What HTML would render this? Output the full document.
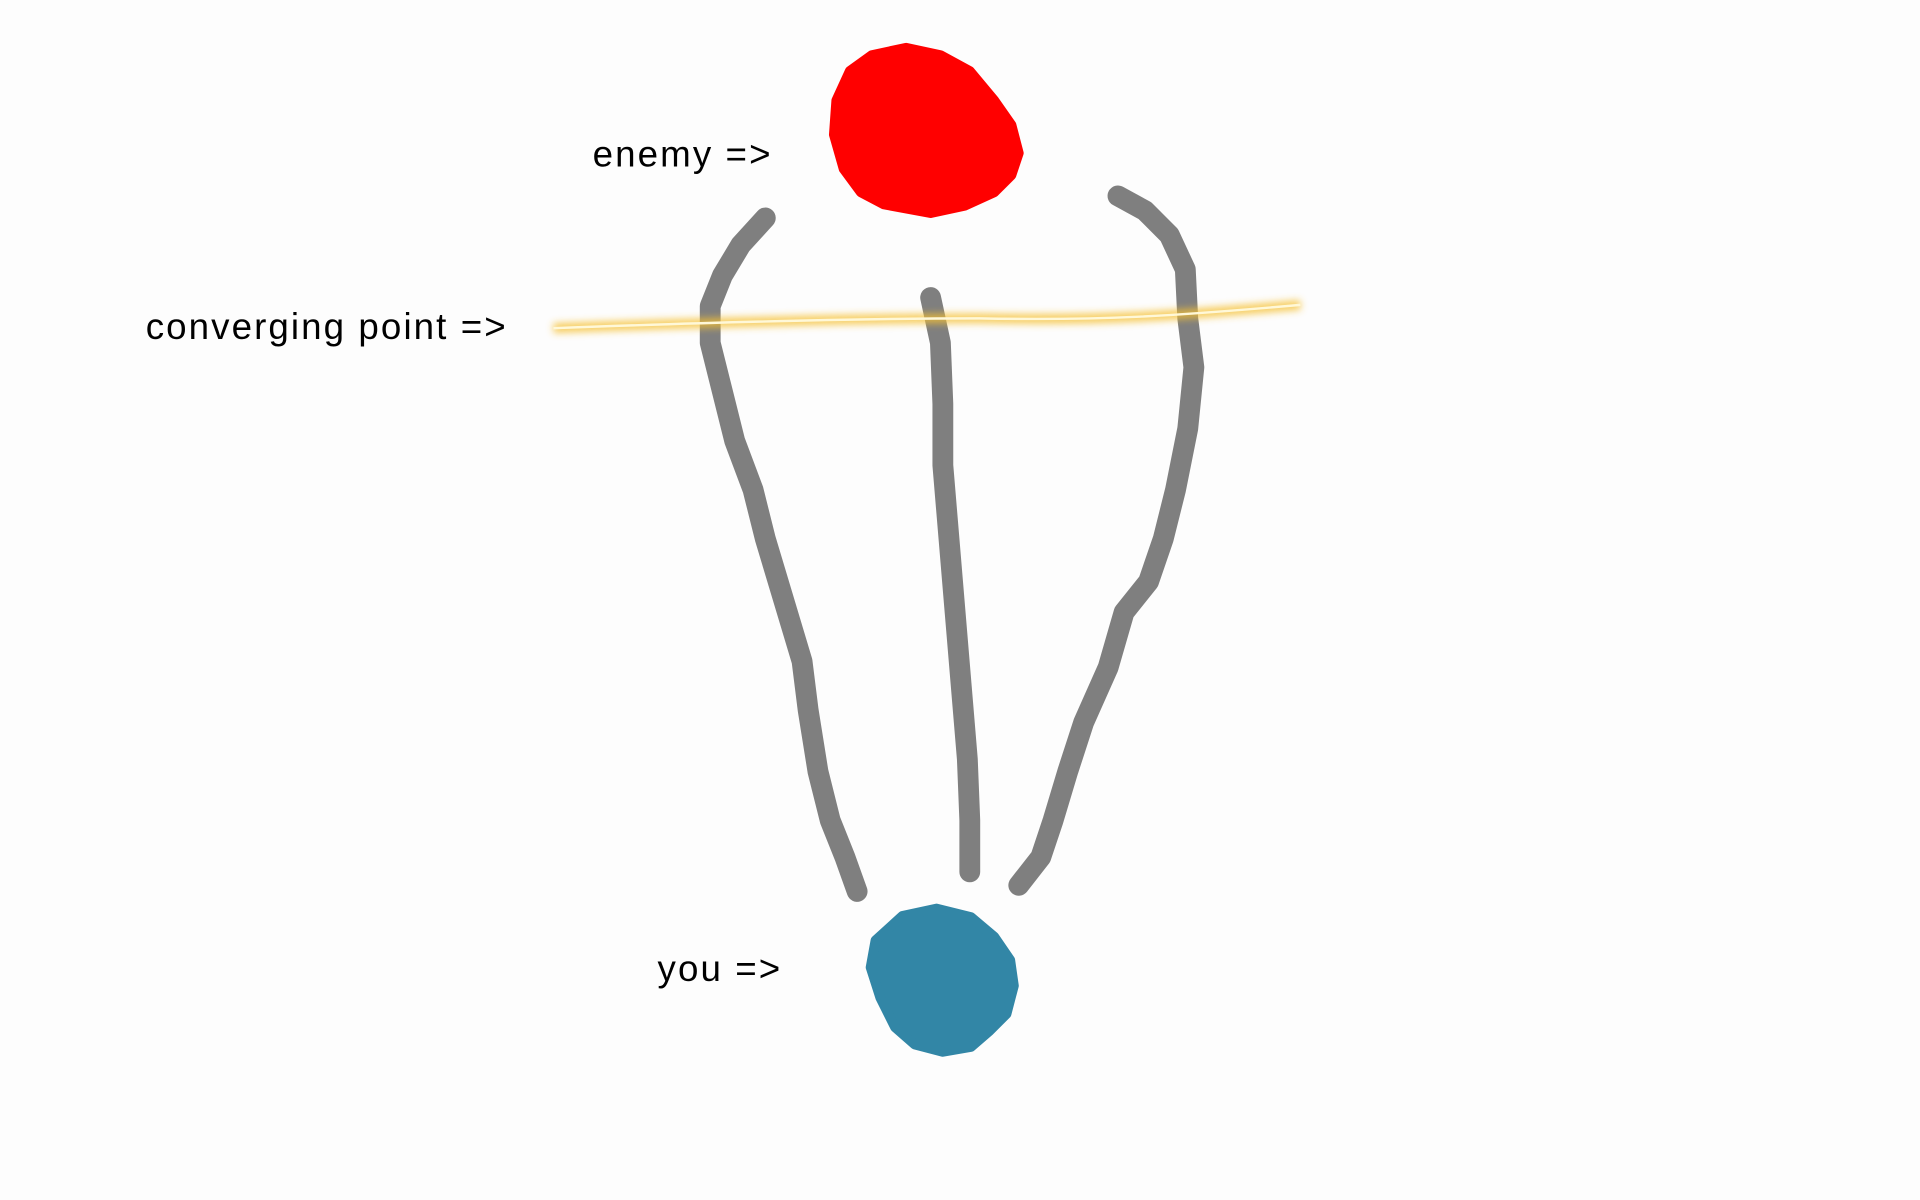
<!DOCTYPE html>
<html><head><meta charset="utf-8"><style>
html,body{margin:0;padding:0;background:#fdfdfd;width:1920px;height:1200px;overflow:hidden}
svg{display:block}
text{font-family:"Liberation Sans",sans-serif;font-size:30px;fill:#000;letter-spacing:1.7px}
</style></head><body>
<svg width="1920" height="1200" viewBox="0 0 1568 980" xmlns="http://www.w3.org/2000/svg">
<defs><filter id="g" x="-10%" y="-200%" width="120%" height="500%"><feGaussianBlur stdDeviation="3"/></filter></defs>
<rect width="1568" height="980" fill="#fdfdfd"/>
<path d="M712,45 L740,39 L768,45 L792,58 L812,82 L826,102 L832,125 L826,143 L812,157 L788,168 L760,174 L722,167 L703,157 L689,138 L681,110 L683,82 L694,58 Z" fill="#ff0000" stroke="#ff0000" stroke-width="8" stroke-linejoin="round"/>
<path d="M737,748 L765,742 L793,749 L812,765 L825,784 L828,805 L822,828 L808,842 L793,855 L770,859 L747,853 L731,839 L719,815 L711,790 L715,768 Z" fill="#3286a6" stroke="#3286a6" stroke-width="8" stroke-linejoin="round"/>
<g fill="none" stroke="#7f7f7f" stroke-width="17" stroke-linecap="round" stroke-linejoin="round">
<path d="M625,178 L605,200 L590,225 L580,250 L580,280 L590,320 L600,360 L615,400 L625,440 L640,490 L655,540 L660,580 L668,630 L678,670 L690,700 L700,728"/>
<path d="M760,243 L768,280 L770,330 L770,380 L775,440 L780,500 L785,560 L790,620 L792,670 L792,712"/>
<path d="M913,160 L935,172 L955,192 L968,220 L970,260 L975,300 L970,350 L960,400 L950,440 L938,475 L918,500 L905,545 L885,590 L872,630 L860,670 L850,700 L832,723"/>
</g>
<path d="M452,268 C560,264 700,260 800,260 C900,262 960,258 1062,249" fill="none" stroke="#f5c030" stroke-width="8" filter="url(#g)" opacity="0.8"/>
<path d="M452,268 C560,264 700,260 800,260 C900,262 960,258 1062,249" fill="none" stroke="#fff8d8" stroke-width="2"/>
<text x="484" y="136">enemy =&gt;</text>
<text x="119" y="277">converging point =&gt;</text>
<text x="537" y="801">you =&gt;</text>
</svg>
</body></html>
